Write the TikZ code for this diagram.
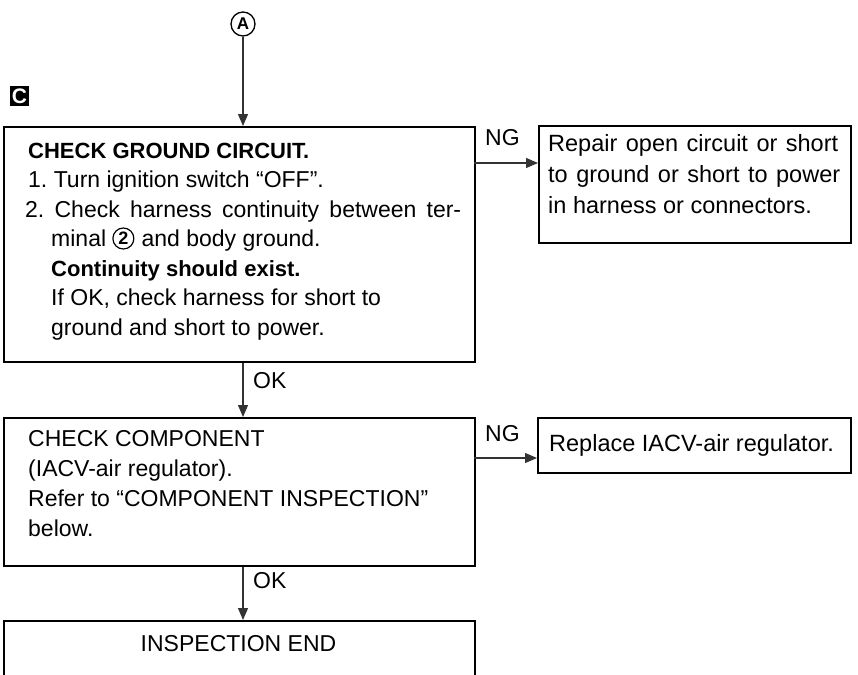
\documentclass[tikz,border=0pt]{standalone}
\usepackage{fontspec}
\setmainfont{Liberation Sans}
\usetikzlibrary{arrows.meta,calc}
\frenchspacing
\begin{document}
\begin{tikzpicture}[x=1pt,y=-1pt,
  box/.style={draw=black,line width=1.6pt,anchor=north west,inner sep=0pt},
  txt/.style={anchor=base west,inner sep=0pt,font=\fontsize{23}{28}\selectfont},
  rtxt/.style={anchor=base west,inner sep=0pt,font=\fontsize{23.5}{28}\selectfont},
  btxt/.style={anchor=base west,inner sep=0pt,font=\fontsize{22}{28}\selectfont\bfseries},
  arr/.style={draw=black!80,line width=1.1pt,-{Triangle[length=12pt,width=10pt]}},
  circA/.style={circle,draw=black,line width=1.3pt,minimum size=24pt,inner sep=0pt,font=\fontsize{17}{17}\selectfont\bfseries},
  circnum/.style={circle,draw=black,line width=1.2pt,minimum size=21pt,inner sep=0pt,font=\fontsize{18}{18}\selectfont\bfseries},
  tag/.style={fill=black,text=white,minimum width=19pt,minimum height=20pt,inner sep=0pt,font=\fontsize{21}{21}\selectfont\bfseries}]
\useasboundingbox (0,0) rectangle (858,674);

% connector circle and section tag
\node[circA] (A) at (243,24) {A};
\node[tag] (C) at (19.5,96) {C};

% box 1
\node[box,minimum width=471pt,minimum height=235pt] (b1) at (3,126) {};
\node[btxt] (b1l1) at (28,158.2) {CHECK GROUND CIRCUIT.};
\node[txt] (b1l2) at (28,187.6) {1. Turn ignition switch “OFF”.};
\node[txt] (b1l3) at (25,217.2) {\makebox[436pt][s]{2. Check harness continuity between ter-}};
\node[txt] (b1l4) at (51,246.7) {minal};
\node[circnum] (c2) at ($(b1l4.base east)+(17,-8.2)$) {2};
\node[txt] (b1l4b) at ($(b1l4.base east)+(35,0)$) {and body ground.};
\node[btxt] (b1l5) at (51,276.2) {Continuity should exist.};
\node[txt] (b1l6) at (51,305.7) {If OK, check harness for short to};
\node[txt] (b1l7) at (51,335.2) {ground and short to power.};

% repair box
\node[box,minimum width=312pt,minimum height=117pt] (r1) at (538,125) {};
\node[rtxt] (r1l1) at (548,151.4) {\makebox[290pt][s]{Repair open circuit or short}};
\node[rtxt] (r1l2) at (548,182.4) {\makebox[292pt][s]{to ground or short to power}};
\node[rtxt] (r1l3) at (548,213.4) {in harness or connectors.};

% box 2
\node[box,minimum width=471pt,minimum height=148pt] (b2) at (3,417) {};
\node[txt] (b2l1) at (28,446.2) {CHECK COMPONENT};
\node[txt] (b2l2) at (28,476.2) {(IACV-air regulator).};
\node[txt] (b2l3) at (28,506.2) {Refer to “COMPONENT INSPECTION”};
\node[txt] (b2l4) at (28,536.2) {below.};

% replace box
\node[box,minimum width=313pt,minimum height=55pt] (r2) at (537,417) {};
\node[rtxt] (r2l1) at (549,451.4) {Replace IACV-air regulator.};

% box 3 (cut off by the page edge)
\begin{scope}
\clip (0,0) rectangle (858,674);
\node[box,minimum width=471pt,minimum height=80pt] (b3) at (3,620) {};
\end{scope}
\node[txt,anchor=base] (b3l1) at (238.5,651.2) {INSPECTION END};

% labels
\node[txt] (ng1) at (485,145.2) {NG};
\node[txt] (ng2) at (485,441.2) {NG};
\node[txt] (ok1) at (253,388.2) {OK};
\node[txt] (ok2) at (253,588.2) {OK};

% connectors
\coordinate (p1) at (474,163);
\coordinate (p2) at (474,458);
\draw[arr] (A.south) -- (A |- b1.north);
\draw[arr] (A |- b1.south) -- (A |- b2.north);
\draw[arr] (A |- b2.south) -- (A |- b3.north);
\draw[arr] (p1) -- (p1 -| r1.west);
\draw[arr] (p2) -- (p2 -| r2.west);
\end{tikzpicture}
\end{document}
